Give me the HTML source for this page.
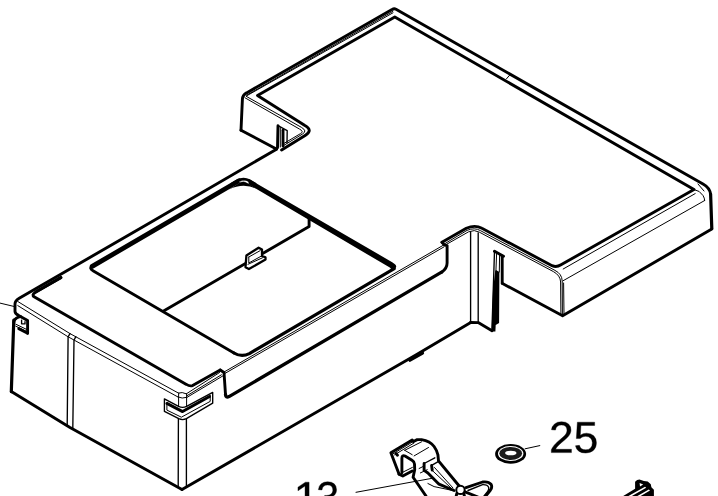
<!DOCTYPE html>
<html><head><meta charset="utf-8">
<style>
html,body{margin:0;padding:0;background:#fff;}
body{width:718px;height:496px;overflow:hidden;font-family:"Liberation Sans",sans-serif;}
svg{display:block;position:absolute;left:0;top:0;}
.k{fill:none;stroke:#000;stroke-width:2.9;stroke-linecap:round;stroke-linejoin:round;}
.k3{fill:none;stroke:#000;stroke-width:4.8;stroke-linecap:round;stroke-linejoin:round;}
.k28{fill:none;stroke:#000;stroke-width:3.2;stroke-linecap:round;stroke-linejoin:round;}
.m{fill:none;stroke:#000;stroke-width:1.35;stroke-linecap:round;stroke-linejoin:round;}
.t{fill:none;stroke:#000;stroke-width:1.0;stroke-linecap:round;stroke-linejoin:round;}
.b{fill:#000;stroke:none;}
text{font-family:"Liberation Sans",sans-serif;font-size:42.7px;fill:#000;}
</style></head><body>
<svg width="718" height="496" viewBox="0 0 718 496">
<rect width="718" height="496" fill="#fff"/>

<!-- ===== COVER: outer outline ===== -->
<path class="k" d="M241,130.2 L242.4,99.4 Q242.6,95 246.5,92.9 L392,9.6 Q394,8.2 396,9.2 L703,184 Q709.8,187.8 710.5,194"/>
<path class="k28" d="M710.6,194 L711.8,228.6"/>
<path class="k" d="M711.8,229 L562.6,315.8 L502.5,283.5"/>
<path class="k" d="M241,130.2 L276.4,149"/>
<!-- long left edge -->
<path class="k" d="M276.5,149.2 L150,222.8 L19.2,298.2 Q15,300.6 15,304 L15,311.4 Q15.2,314 18.6,315.4 L27.6,320.4 L27.6,333.2"/>

<!-- ===== COVER: inner top-face outline ===== -->
<path class="k" d="M281.6,150 L305.5,135.2 Q313.5,130.4 304.5,125.2 L257.5,95.5 L394.8,17 L694,189.5 L561,264.8 Q556.5,267.6 552.1,265.7 L481.9,228.3 Q475,224.4 466.3,228.3 L442,242.3"/>

<!-- thin lines between outer and inner -->
<path class="t" d="M392.8,11.4 L247,95"/>
<path class="t" d="M393,12.8 L246,96.2 L301.5,127.4 Q307.6,131 302.5,134 L283.5,145.6"/>
<path class="t" d="M245,97.8 L299.4,129 Q304.4,131.6 300.5,133.6 L284,143.4"/>
<!-- tick on right top edge -->
<path class="t" d="M510.1,74.6 L506.4,78.9"/>

<!-- right face thin lines / bevel -->
<path class="t" d="M704.7,200.5 L563,280.8"/>
<path class="t" d="M694,189.5 Q700,190.5 703,195.5 Q704.6,198 704.7,200.5"/>
<path class="t" d="M698,184 L704,191"/>
<path class="t" d="M695.2,193.6 L563.2,269"/>

<!-- notch thin lines + front corner of right wing -->
<path class="t" d="M444.6,243.8 L467,230.4 Q474.6,227.2 480.4,230.6 L555,270.4 Q562,274 562.2,281 L562.4,314"/>
<path class="t" d="M445,245.2 L468.6,231.8 Q474.5,229.2 479.4,232.2 L553.4,271.6 Q560.4,275.4 560.6,282 L560.9,313.5"/>
<path class="t" d="M563.6,283 L564,314.5"/>

<!-- inner corner verticals -->
<path class="m" d="M470.6,232 L470.6,322.3"/>
<path class="m" d="M478.2,232.8 L478.2,322.6"/>
<path class="k" d="M470.6,322.5 L478.2,322.6 L492,330.7"/>
<!-- right face bottom edge of box -->
<path class="k" d="M470.7,322.6 L415,355.5 L182,489.6"/>
<path class="k28" d="M410,360.2 L422.5,353"/>

<!-- slot in inner wall -->
<path class="k" d="M494.5,251.3 L503.5,256.2"/>
<path class="m" d="M494.5,251.3 L491.9,331"/>
<path class="t" d="M496.6,253.6 L495.9,271.5"/>
<path class="t" d="M499.6,255 L499.3,272"/>
<path class="b" d="M496,270 L499.4,272 L499.1,323 L495.7,325 L495.4,331.4 L491.6,331.4 L493,290 L495.2,271 Z"/>
<path class="k" d="M502.2,256.3 L502.2,283.3"/>

<!-- slot in notch wall (top-left) -->
<path class="k" d="M278,125.7 L277.5,147.8"/>
<path class="m" d="M278,125.7 L287.2,130.7 L287,142.8"/>
<path class="k" d="M283,130.2 L283,146"/>
<path class="t" d="M280.3,127.5 L280.3,147"/>

<!-- ===== LIP ===== -->
<path class="k" d="M442,242.3 L444.4,245 L447.1,245.6 L447.1,263 Q447.1,268.6 441.6,272.2"/>
<path class="k" style="stroke-width:3.3" d="M441.6,272.2 L229,396.6 Q225.8,398.2 225.5,394.5"/>
<path class="k" d="M225.5,394.5 L224,372.5 L220.2,370"/>
<path class="t" d="M443,245.4 L224.6,371.7"/>
<path class="t" d="M443.8,247 L225,373.4"/>

<!-- ===== RECESS ===== -->
<path class="k3" d="M239,180.7 L92.2,266.4"/>
<path class="k" d="M232,184 L237.5,180.8 Q243.5,177.5 249.5,180.8 L255,184"/><path class="b" d="M229,189.4 L243.2,180.6 L256,188.6 Q243.2,182.4 229,189.4 Z"/><path d="M239.4,181.9 Q243.3,180.9 246.8,181.9" fill="none" stroke="#fff" stroke-width="0.8"/>
<path class="b" d="M248.5,178.8 L392.2,262.2 Q399,266.2 394.4,269 L392.4,270.2 L389.8,267.6 L248.5,184.2 Z"/>
<path class="k" style="stroke-width:3.2" d="M394.2,268.6 L249.4,353.6 Q241.5,357.6 234,353"/>
<path class="k" style="stroke-width:2.8" d="M234,353 L93.4,271 Q88.6,268.2 92.2,266.4"/>
<!-- divider -->
<path class="k" d="M309.1,217 L309.1,226.5 L164,310.8"/>
<!-- clip on divider -->
<path d="M246.4,255.5 L258.6,247.7 L262,249.6 L262,256 L265.5,257.4 L265.5,259.6 L248.9,269.1 L245.5,267.2 Z" fill="#fff" stroke="#000" stroke-width="2.3" stroke-linejoin="round"/>
<path class="t" d="M248.8,257 L260.2,250.6 M248.8,257 L248.8,263 L261.5,256 M248,264.3 L262.5,257.8"/>

<!-- ===== BOX top-face inner line ===== -->
<path class="k" d="M61,277.6 L35.5,292.2 Q31,294.9 34.5,297 L186.4,384.4 Q189.5,386.4 192.6,385.6 L220.2,370"/>
<path class="k" style="stroke-width:3.0" d="M60.8,277.6 L36,291.8"/>
<!-- front top edge thin lines -->
<path class="t" d="M17.8,301.5 L70,333.6 L179,393.4"/>
<path class="t" d="M17.8,305.6 L68.1,336.8 L178,397"/>
<!-- corner cap -->
<path class="t" d="M178.5,393 Q182,391.6 186.4,393.8 M178,397 Q182,399 186.8,397.4 M178.6,394 L178.6,406.4 M186.6,394 L186.6,406.4"/>
<path class="t" d="M186.4,393.8 L219.6,372.5 M187,395.7 L221.4,374.8 M186.6,397.6 L222.7,376"/>
<!-- left vertical edge -->
<path class="k28" d="M13.8,320 L11.3,391.6"/>
<path class="k" d="M11.3,391.6 L70,427.4 L182,489.6"/>
<!-- left tab -->
<path class="k" d="M13.8,322.6 Q14,318.8 18.4,317.2 L20.4,316.4"/>
<path class="k" d="M27.6,333.2 L18.8,328.6"/>
<path class="m" d="M21.6,320.2 L21.6,323.8 L25,323.9 L25,321.6"/>
<path class="t" d="M15.8,324.2 L27,329.6 M15.8,326.2 L27,331.6"/>
<!-- front face divider -->
<path class="m" d="M70,333.6 L68.1,336.8 L67.2,425.6"/>
<path class="m" d="M75.8,336.6 L74,340.2 L72.8,428.8"/>
<!-- corner verticals -->
<path class="m" d="M178.4,418.7 L178.2,487.6"/>
<path class="m" d="M186.4,418.7 L186.4,487"/>
<!-- corner slot -->
<path class="m" d="M164.4,398.9 L164.4,411.4 L178.8,418.7 Q182.6,420.5 186.4,418.7 L212.7,403.2 L212.7,392.3 L186.6,406.4 Q182.6,408.4 178.6,406.4 Z"/>
<path class="k" d="M166.9,403.4 L182.6,411.6 L209.5,396.6"/>
<path class="t" d="M166.9,403.2 L166.9,410.1 L181.4,417.2 L210.2,401.4 L210.2,395.1"/>

<!-- leader left -->
<path class="t" d="M0,303.1 L13.8,306.4"/>

<!-- ===== washer 25 ===== -->
<ellipse cx="510.6" cy="453.9" rx="15.5" ry="9.8" fill="#000"/>
<ellipse cx="510.7" cy="453.5" rx="12.7" ry="7.5" fill="#fff"/>
<ellipse cx="510.7" cy="453.4" rx="11.4" ry="6.5" fill="#1a1a1a"/>
<ellipse cx="510.8" cy="453" rx="5.7" ry="2.3" fill="#fff"/>
<path class="t" d="M525.1,448.8 L539.8,445.6"/>
<path transform="translate(549.10,452.60) scale(0.02158,-0.02158)" d="M103 0V127Q154 244 227.5 333.5Q301 423 382.0 495.5Q463 568 542.5 630.0Q622 692 686.0 754.0Q750 816 789.5 884.0Q829 952 829 1038Q829 1154 761.0 1218.0Q693 1282 572 1282Q457 1282 382.5 1219.5Q308 1157 295 1044L111 1061Q131 1230 254.5 1330.0Q378 1430 572 1430Q785 1430 899.5 1329.5Q1014 1229 1014 1044Q1014 962 976.5 881.0Q939 800 865.0 719.0Q791 638 582 468Q467 374 399.0 298.5Q331 223 301 153H1036V0Z" fill="#000" stroke="#000" stroke-width="18"/>
<path transform="translate(573.70,452.60) scale(0.02158,-0.02158)" d="M1053 459Q1053 236 920.5 108.0Q788 -20 553 -20Q356 -20 235.0 66.0Q114 152 82 315L264 336Q321 127 557 127Q702 127 784.0 214.5Q866 302 866 455Q866 588 783.5 670.0Q701 752 561 752Q488 752 425.0 729.0Q362 706 299 651H123L170 1409H971V1256H334L307 809Q424 899 598 899Q806 899 929.5 777.0Q1053 655 1053 459Z" fill="#000" stroke="#000" stroke-width="18"/>
<path transform="translate(293.60,512.60) scale(0.02223,-0.02158)" d="M156 0V153H515V1237L197 1010V1180L530 1409H696V153H1039V0Z" fill="#000" stroke="#000" stroke-width="18"/>
<path transform="translate(316.30,512.60) scale(0.02007,-0.02158)" d="M1049 389Q1049 194 925.0 87.0Q801 -20 571 -20Q357 -20 229.5 76.5Q102 173 78 362L264 379Q300 129 571 129Q707 129 784.5 196.0Q862 263 862 395Q862 510 773.5 574.5Q685 639 518 639H416V795H514Q662 795 743.5 859.5Q825 924 825 1038Q825 1151 758.5 1216.5Q692 1282 561 1282Q442 1282 368.5 1221.0Q295 1160 283 1049L102 1063Q122 1236 245.5 1333.0Q369 1430 563 1430Q775 1430 892.5 1331.5Q1010 1233 1010 1057Q1010 922 934.5 837.5Q859 753 715 723V719Q873 702 961.0 613.0Q1049 524 1049 389Z" fill="#000" stroke="#000" stroke-width="18"/>
<path class="t" d="M356,492.3 L432.6,478.2"/>

<!-- ===== clip 13 ===== -->
<g id="clip">
<path class="k" d="M399,474.1 L390.9,452.8 L412.2,440 L413.5,441.5 L417.2,439.6 L421.6,439.6 Q430,441 434.1,446.5 Q437.2,451 437.9,454.7 L438.5,460.9 L459.2,486"/>
<path class="k" d="M399,474.1 L402.8,476 L412.2,471"/>
<path class="k" d="M401.9,472.8 L401.9,458.2 Q402,454.8 405,456 L412,460.2 Q414.4,461.6 414.5,464 L414.7,469.7 L413.1,477.2 L426,496"/>
<path class="k" d="M396,453.5 L397.5,455.2"/>
<path class="t" d="M392.8,454 L413.5,441.3 M394.6,454.8 L414,443"/>
<path class="t" d="M404.7,450.3 L421.6,441.8 M404.7,450.3 L412.2,454.7 M414.1,455.9 L428.5,447.5"/>
<path class="t" d="M402.8,472.2 L412.4,467.4"/>
<path class="k" d="M424.1,463.5 L424.1,470.4 L427.9,473 L439,484.2 L454,490.5"/>
<path class="m" d="M424.1,463.5 L434.8,457.8"/>
<path class="k" d="M431.6,465.4 L432.2,470"/>
<path class="m" d="M431.6,465.4 L438.2,461.6"/>
<path class="t" d="M419.1,468.5 L424.1,466 M420.4,472.9 L427.2,469.7 M432.2,470.4 L452.3,489.2 M434.5,467.5 L453,488 M427.9,483.5 L434.1,486.6 L452.3,490.4"/>
<circle cx="460.5" cy="489.9" r="4.2" fill="#fff" stroke="#000" stroke-width="2"/>
<path class="k" d="M466,487.6 L482.6,482 Q488.5,481.2 491,484.2 Q492.6,487 490.5,490 L485.4,496.5"/>
<path class="m" d="M468,490.5 L482.6,484.6 Q487.5,484.4 488.6,487.2 Q489.2,489.4 487.5,491.6 L483.6,496.5"/>
<path class="k" d="M465,491.8 L478,497"/>
<path class="k" d="M456.8,493.5 L456,497 M463.8,493.4 L464.6,497"/>
</g>

<!-- ===== small part bottom right ===== -->
<path class="b" d="M622.4,496.5 L635.1,488.8 L635.1,481.7 Q637,479.4 639.5,479.4 L643.9,481.1 L647.7,481.5 L650.8,484.2 L651.4,487.3 L653.9,489.8 L653.9,496.5 Z"/>
<path d="M627.5,496.5 L645,486.8 L646.2,487.8 L631,496.5 Z M636.5,496.5 L648.8,489.4 L650,490.4 L639.8,496.5 Z M639.6,483 L643.2,484.4 L640,486.4 Z" fill="#fff"/>
</svg>
</body></html>
